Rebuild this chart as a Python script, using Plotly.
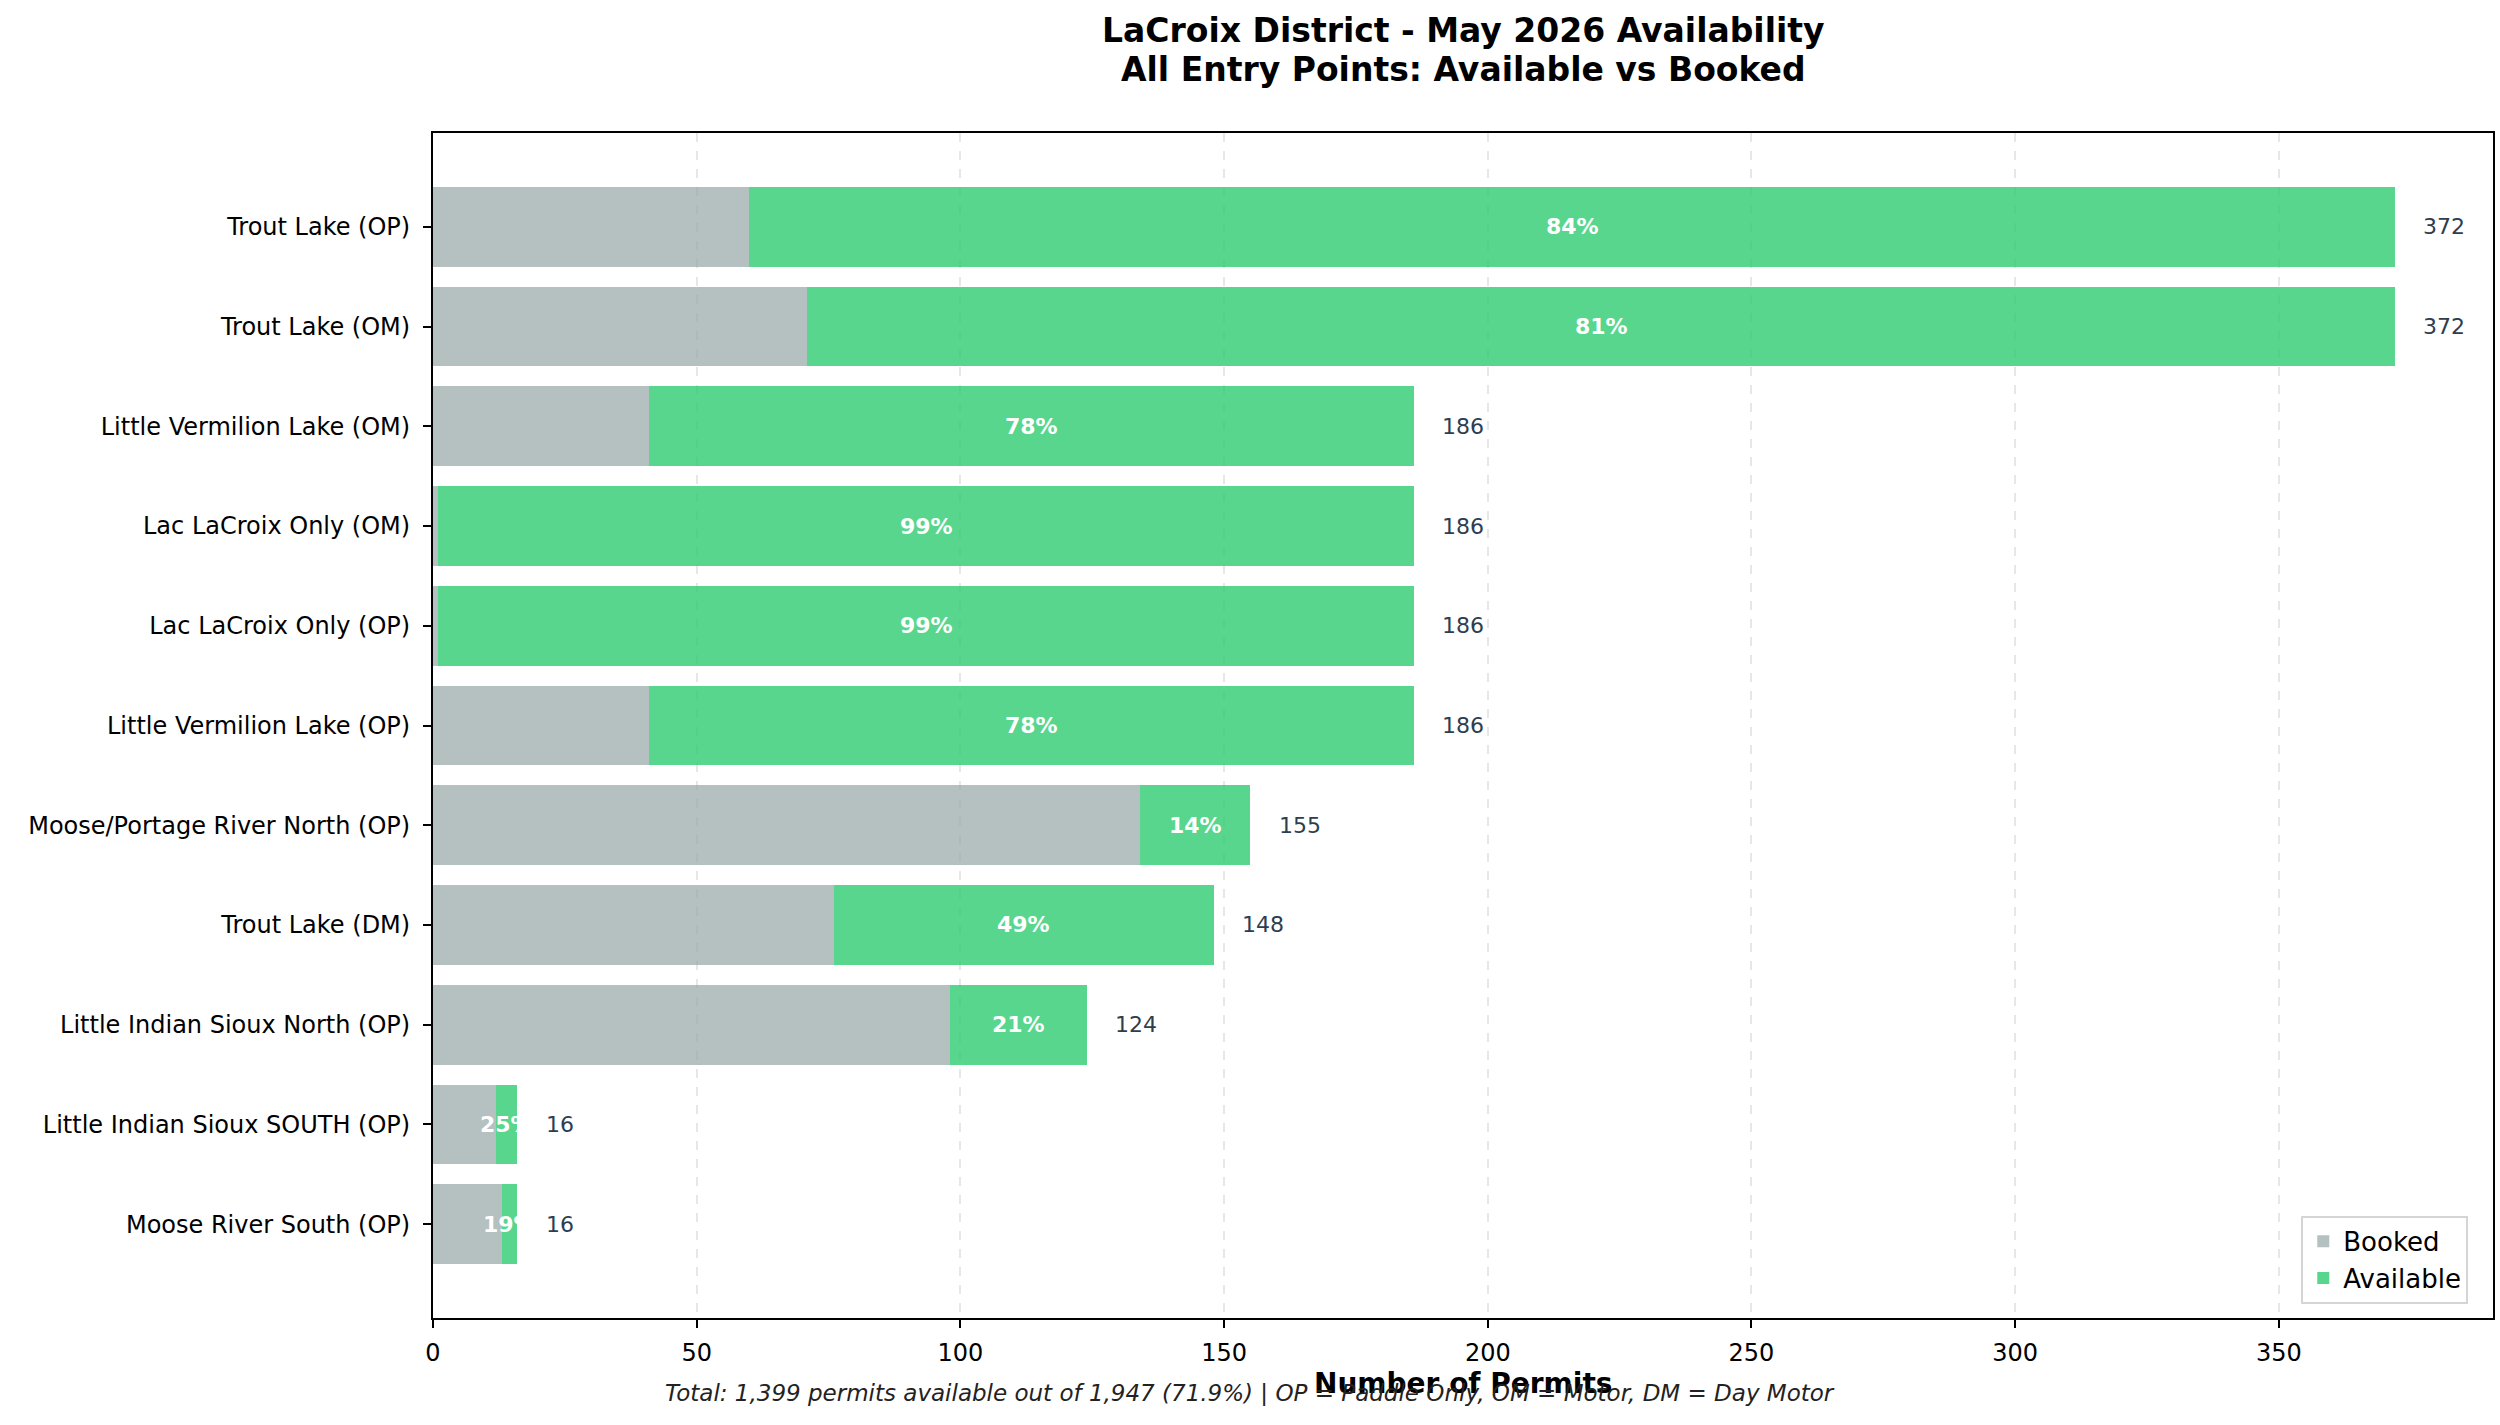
import plotly.graph_objects as go

# entry points, top to bottom
entry_points = [
    "Trout Lake (OP)",
    "Trout Lake (OM)",
    "Little Vermilion Lake (OM)",
    "Lac LaCroix Only (OM)",
    "Lac LaCroix Only (OP)",
    "Little Vermilion Lake (OP)",
    "Moose/Portage River North (OP)",
    "Trout Lake (DM)",
    "Little Indian Sioux North (OP)",
    "Little Indian Sioux SOUTH (OP)",
    "Moose River South (OP)",
]
booked = [60, 71, 41, 1, 1, 41, 134, 76, 98, 12, 13]
available = [312, 301, 145, 185, 185, 145, 21, 72, 26, 4, 3]

title_lines = ["LaCroix District - May 2026 Availability",
               "All Entry Points: Available vs Booked"]

totals = [b + a for b, a in zip(booked, available)]
pcts = [a / t * 100 for a, t in zip(available, totals)]

FONT = "DejaVu Sans"

fig = go.Figure()
fig.add_trace(go.Bar(
    y=entry_points, x=booked, orientation="h", name="Booked",
    marker=dict(color="rgba(149,165,166,0.7)", line=dict(width=0)),
))
fig.add_trace(go.Bar(
    y=entry_points, x=available, orientation="h", name="Available",
    marker=dict(color="rgba(46,204,113,0.8)", line=dict(width=0)),
))

annotations = []
for ep, b, a, t, p in zip(entry_points, booked, available, totals, pcts):
    annotations.append(dict(
        x=b + a / 2, y=ep, xref="x", yref="y", text="<b>%.0f%%</b>" % p,
        showarrow=False, font=dict(family=FONT, size=22, color="white"),
        xanchor="center", yanchor="middle",
    ))
    annotations.append(dict(
        x=t + 5, y=ep, xref="x", yref="y", text=str(t),
        showarrow=False, font=dict(family=FONT, size=22, color="#2c3e50"),
        xanchor="left", yanchor="middle",
    ))

tot_avail = sum(available)
tot_all = sum(totals)
footer = ("Total: {:,} permits available out of {:,} ({:.1f}%) | "
          "OP = Paddle Only, OM = Motor, DM = Day Motor").format(
              tot_avail, tot_all, tot_avail / tot_all * 100)

# title lines placed one by one (plotly spreads <br> lines too wide)
for line, ypx in zip(title_lines, [31, 70]):
    annotations.append(dict(
        x=0.5, y=1 + (133 - ypx) / 1185, xref="paper", yref="paper",
        text="<b>" + line + "</b>",
        showarrow=False, font=dict(family=FONT, size=33, color="black"),
        xanchor="center", yanchor="middle",
    ))
annotations.append(dict(
    x=0.5, y=-0.055, xref="paper", yref="paper", text="<b>Number of Permits</b>",
    showarrow=False, font=dict(family=FONT, size=28, color="black"),
    xanchor="center", yanchor="middle",
))
annotations.append(dict(
    x=0.3966, y=-0.0633, xref="paper", yref="paper", text="<i>" + footer + "</i>",
    showarrow=False, font=dict(family=FONT, size=23, color="#222222"),
    xanchor="center", yanchor="middle",
))

fig.update_layout(
    width=2500, height=1425,
    barmode="stack", bargap=0.2,
    paper_bgcolor="white", plot_bgcolor="white",
    margin=dict(l=433, r=7, t=133, b=107, autoexpand=False),
    font=dict(family=FONT, size=24, color="black"),
    legend=dict(
        x=0.988, y=0.012, xanchor="right", yanchor="bottom",
        traceorder="normal", bgcolor="rgba(255,255,255,0.8)",
        bordercolor="#d5d5d5", borderwidth=2,
        font=dict(family=FONT, size=26, color="black"),
    ),
    annotations=annotations,
)

fig.update_xaxes(
    range=[0, max(totals) * 1.05],
    showgrid=True, gridcolor="rgba(176,176,176,0.3)", griddash="dash", gridwidth=2,
    showline=True, mirror=True, linecolor="black", linewidth=2,
    ticks="outside", ticklen=8, tickwidth=2, tickcolor="black",
    dtick=50, zeroline=False, ticklabelstandoff=4,
    tickfont=dict(family=FONT, size=24, color="black"),
)
fig.update_yaxes(
    type="category", categoryorder="array", categoryarray=entry_points,
    range=[len(entry_points) - 1 + 0.94, -0.94],
    showgrid=False,
    showline=True, mirror=True, linecolor="black", linewidth=2,
    ticks="outside", ticklen=8, tickwidth=2, tickcolor="black",
    ticklabelstandoff=8,
    tickfont=dict(family=FONT, size=24, color="black"),
)

fig.write_html("out.html", config={"displayModeBar": False},
               post_script="document.body.style.margin='0';")
